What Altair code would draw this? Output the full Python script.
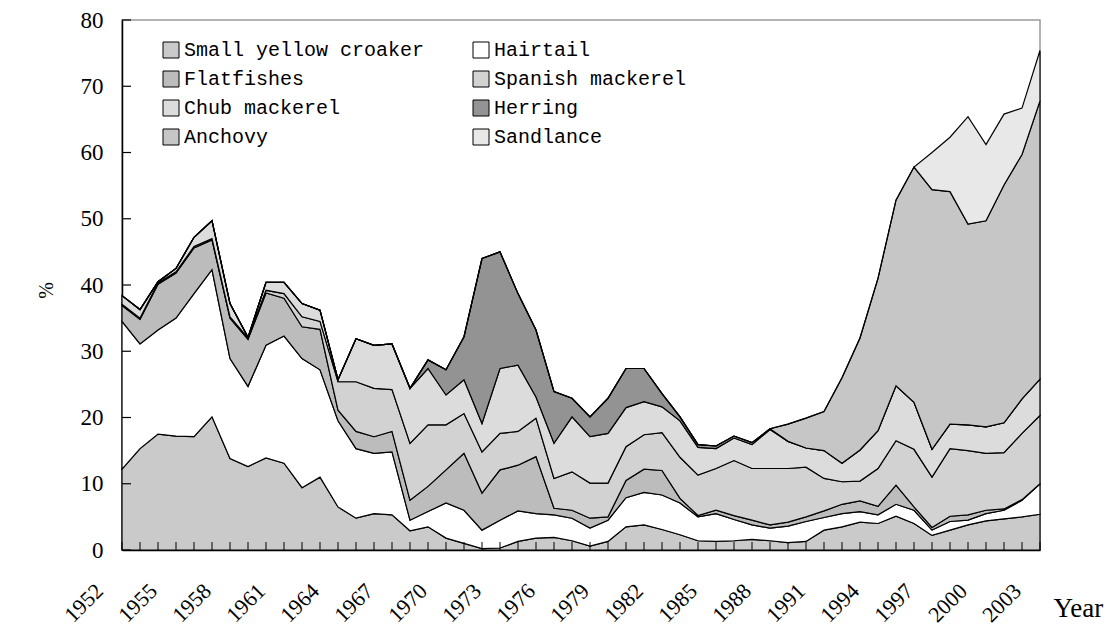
import altair as alt
import pandas as pd

years = list(range(1952, 2004))
species = ["Small yellow croaker", "Hairtail", "Flatfishes", "Spanish mackerel",
           "Chub mackerel", "Herring", "Anchovy", "Sandlance"]

small_yellow_croaker = [12.2, 15.3, 17.5, 17.2, 17.1, 20.1, 13.8, 12.6, 13.9, 13.1, 9.4, 11.0,
                        6.5, 4.8, 5.5, 5.3, 2.9, 3.5, 1.8, 1.0, 0.2, 0.3, 1.3, 1.8,
                        1.9, 1.4, 0.6, 1.3, 3.5, 3.8, 3.1, 2.3, 1.4, 1.3, 1.4, 1.6,
                        1.4, 1.1, 1.3, 3.0, 3.5, 4.2, 4.0, 5.1, 4.0, 2.2, 3.0, 3.8,
                        4.4, 4.7, 5.0, 5.4]
hairtail = [22.3, 15.8, 15.7, 17.8, 21.6, 22.2, 15.1, 12.1, 17.0, 19.2, 19.5, 16.2,
            13.0, 10.5, 9.1, 9.5, 1.6, 2.3, 5.3, 5.0, 2.8, 4.2, 4.6, 3.7,
            3.4, 3.4, 2.7, 3.2, 4.4, 4.9, 5.2, 4.8, 3.6, 4.2, 3.2, 2.2,
            1.9, 2.5, 3.0, 1.9, 2.0, 1.6, 1.3, 1.8, 2.0, 0.8, 1.3, 0.7,
            1.1, 1.3, 2.5, 4.6]
flatfishes = [2.4, 3.7, 6.9, 6.8, 6.9, 4.5, 6.1, 7.1, 7.9, 5.7, 4.8, 6.1,
              1.6, 2.6, 2.5, 3.1, 3.0, 3.8, 5.0, 8.6, 5.6, 7.6, 6.9, 8.6,
              1.0, 1.2, 1.5, 0.5, 2.6, 3.5, 3.7, 0.7, 0.2, 0.5, 0.6, 0.7,
              0.5, 0.6, 0.7, 1.0, 1.4, 1.6, 1.3, 2.9, 0.5, 0.4, 0.8, 0.8,
              0.5, 0.2, 0.1, 0.0]
spanish_mackerel = [0.2, 0.2, 0.2, 0.2, 0.2, 0.2, 0.2, 0.2, 0.4, 0.7, 1.5, 1.2,
                    4.3, 7.5, 7.3, 6.3, 8.6, 9.3, 6.8, 6.0, 6.2, 5.5, 5.1, 5.8,
                    4.5, 5.8, 5.3, 5.1, 5.1, 5.2, 5.7, 6.2, 6.1, 6.3, 8.3, 7.8,
                    8.5, 8.1, 7.5, 4.9, 3.4, 3.0, 5.7, 6.7, 8.7, 7.6, 10.2, 9.7,
                    8.6, 8.5, 10.0, 10.3]
chub_mackerel = [1.3, 1.3, 0.2, 0.5, 1.4, 2.7, 2.0, 0.1, 1.2, 1.7, 2.0, 1.7,
                 0.3, 6.5, 6.5, 6.9, 8.3, 8.5, 4.5, 5.1, 4.3, 9.8, 10.0, 3.2,
                 5.3, 8.3, 7.0, 7.5, 5.9, 5.0, 3.9, 5.5, 4.2, 3.0, 3.4, 3.6,
                 5.9, 4.1, 2.9, 4.2, 2.8, 4.7, 5.7, 8.3, 7.1, 4.2, 3.7, 3.9,
                 4.0, 4.5, 5.2, 5.5]
herring = [0, 0, 0, 0, 0, 0, 0, 0, 0, 0, 0, 0,
           0, 0, 0, 0, 0, 1.3, 3.8, 6.5, 24.9, 17.6, 10.8, 10.1,
           7.8, 2.8, 3.0, 5.3, 5.9, 5.0, 2.0, 0.6, 0.4, 0.4, 0.3, 0.3,
           0.1, 0, 0, 0, 0, 0, 0, 0, 0, 0, 0, 0,
           0, 0, 0, 0]
anchovy = [0, 0, 0, 0, 0, 0, 0, 0, 0, 0, 0, 0,
           0, 0, 0, 0, 0, 0, 0, 0, 0, 0, 0, 0,
           0, 0, 0, 0, 0, 0, 0, 0, 0, 0, 0, 0,
           0, 2.6, 4.5, 5.9, 12.9, 16.9, 23.0, 28.0, 35.5, 39.2, 35.1, 30.3,
           31.1, 35.9, 36.9, 42.0]
sandlance = [0, 0, 0, 0, 0, 0, 0, 0, 0, 0, 0, 0,
             0, 0, 0, 0, 0, 0, 0, 0, 0, 0, 0, 0,
             0, 0, 0, 0, 0, 0, 0, 0, 0, 0, 0, 0,
             0, 0, 0, 0, 0, 0, 0, 0, 0, 5.6, 8.2, 16.2,
             11.5, 10.7, 7.0, 7.6]

fill_colors = ["#cacaca", "#ffffff", "#bcbcbc", "#d2d2d2",
               "#dcdcdc", "#939393", "#c6c6c6", "#e8e8e8"]
y_ticks = list(range(0, 90, 10))
x_label_years = list(range(1952, 2004, 3))

series = [small_yellow_croaker, hairtail, flatfishes, spanish_mackerel,
          chub_mackerel, herring, anchovy, sandlance]
rows = []
for rank, (name, vals) in enumerate(zip(species, series)):
    for yr, v in zip(years, vals):
        rows.append({"year": yr, "species": name, "rank": rank, "value": v})
df = pd.DataFrame(rows)

xscale = alt.Scale(domain=[1952, 2003], nice=False, zero=False)
yscale = alt.Scale(domain=[0, 80], nice=False)

x_axis = alt.Axis(values=x_label_years, format="d", labelAngle=-45,
                  labelAlign="right", labelBaseline="middle",
                  labelPadding=37, labelOffset=-23, ticks=False, tickSize=0,
                  labelFont="Liberation Serif", labelFontSize=22,
                  labelColor="black", grid=False, domainColor="black",
                  domainWidth=1.5, labelOverlap=False, labelFlush=False,
                  title="Year", titleFont="Liberation Serif",
                  titleFontSize=27, titleFontWeight="normal",
                  titleColor="black", titleAlign="left",
                  titleBaseline="middle", titleX=931, titleY=58)
y_axis = alt.Axis(values=y_ticks, ticks=False, tickSize=0, labelPadding=19,
                  labelFont="Liberation Serif", labelFontSize=23,
                  labelColor="black", grid=False, domainColor="black",
                  domainWidth=1.5, title="%", titleFont="Liberation Serif",
                  titleFontSize=20, titleFontWeight="normal",
                  titleColor="black", titleX=-66, titleY=270)

areas = alt.Chart(df).mark_area(
    stroke="black", strokeWidth=1.2, opacity=1, strokeJoin="miter"
).encode(
    x=alt.X("year:Q", scale=xscale, axis=x_axis),
    y=alt.Y("value:Q", stack="zero", scale=yscale, axis=y_axis),
    color=alt.Color("species:N",
                    scale=alt.Scale(domain=species, range=fill_colors),
                    legend=alt.Legend(orient="none", legendX=39, legendY=20,
                                      direction="horizontal",
                                      columns=2, title=None, symbolType="square",
                                      symbolSize=256, symbolStrokeColor="black",
                                      symbolStrokeWidth=1, symbolOpacity=1,
                                      labelFont="Liberation Mono", labelFontSize=20,
                                      labelColor="black", labelLimit=500,
                                      labelOffset=3, rowPadding=9,
                                      columnPadding=46, padding=0)),
    order=alt.Order("rank:Q", sort="ascending"),
)

ytick_df = pd.DataFrame({"value": y_ticks})
yticks = alt.Chart(ytick_df).mark_rule(color="black", strokeWidth=1.2).encode(
    y=alt.Y("value:Q", scale=yscale, axis=y_axis),
    x=alt.value(0), x2=alt.value(9),
)

xtick_df = pd.DataFrame({"year": years})
xticks = alt.Chart(xtick_df).mark_rule(color="black", strokeWidth=1).encode(
    x=alt.X("year:Q", scale=xscale, axis=x_axis),
    y=alt.value(530), y2=alt.value(522),
)

chart = alt.layer(areas, xticks, yticks).properties(
    width=918, height=530,
    autosize=alt.AutoSizeParams(type="none"),
    padding={"left": 114, "top": 12, "right": 64, "bottom": 78},
    background="white",
).configure_view(stroke="#9a9a9a", strokeWidth=1.5)

chart.save("out.html", embed_options={"renderer": "svg", "actions": False})
